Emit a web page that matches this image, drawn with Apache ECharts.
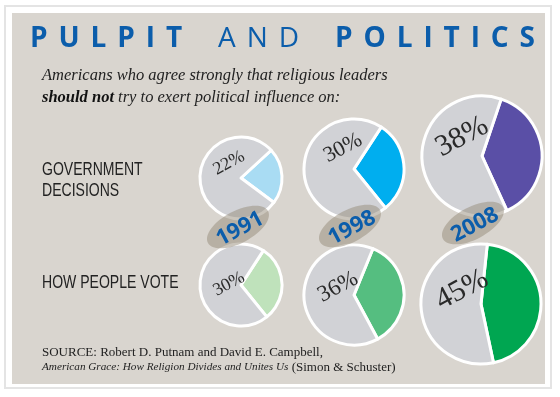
<!DOCTYPE html>
<html>
<head>
<meta charset="utf-8">
<script src="https://cdn.jsdelivr.net/npm/echarts@6/dist/echarts.min.js"></script>
<style>
  html, body { margin: 0; padding: 0; background: #fff; }
  #main { width: 560px; height: 397px; }
</style>
</head>
<body>
<div id="main"></div>
<script>
// data
var years = ['1991', '1998', '2008'];
var government = [22, 30, 38];
var vote = [30, 36, 45];

// layout (px)
var govCenters = [[241, 178], [354, 169], [482, 156]];
var voteCenters = [[241, 285], [354, 295], [481, 304]];
var radii = [41, 50, 60];
var govColors = ['#a9dcf3', '#00aeef', '#5a4fa6'];
var voteColors = ['#bfe2bb', '#55be80', '#00a651'];
var restColor = '#d1d2d6';
var govLabelPos = [[229, 163], [343, 148], [462, 137]];
var voteLabelPos = [[229, 284], [338, 287], [462, 290]];
var govLabelSize = [18, 22, 30];
var voteLabelSize = [18, 23, 30];
var yearPos = [[240, 229], [352, 228], [475, 225]];

var chart = echarts.init(document.getElementById('main'));

function pie(value, center, r, color) {
    return {
        type: 'pie',
        center: center,
        radius: [0, r],
        startAngle: 3 + value * 1.8,
        clockwise: true,
        silent: true,
        label: { show: false },
        labelLine: { show: false },
        itemStyle: { borderColor: '#fff', borderWidth: 3 },
        data: [
            { value: value, itemStyle: { color: color } },
            { value: 100 - value, itemStyle: { color: restColor } }
        ]
    };
}

var series = [];
years.forEach(function (y, i) {
    series.push(pie(government[i], govCenters[i], radii[i], govColors[i]));
    series.push(pie(vote[i], voteCenters[i], radii[i], voteColors[i]));
});

var graphics = [];
// frame + panel
graphics.push({ type: 'rect', z: -10, shape: { x: 5, y: 6, width: 546, height: 382 },
    style: { fill: '#fff', stroke: '#e4e4e4', lineWidth: 2 } });
graphics.push({ type: 'rect', z: -9, shape: { x: 12, y: 13, width: 533, height: 371 },
    style: { fill: '#d9d5cf' } });

// title with wide letter spacing
var ctx = document.createElement('canvas').getContext('2d');
var titleParts = [
    { t: 'PULPIT', font: 'bold 28px "Open Sans", sans-serif' },
    { t: 'AND', font: '28px "Open Sans", sans-serif' },
    { t: 'POLITICS', font: 'bold 28px "Open Sans", sans-serif' }
];
var natural = 0, nGaps = 0, wordGap = 36;
titleParts.forEach(function (p) {
    ctx.font = p.font;
    p.w = [];
    for (var k = 0; k < p.t.length; k++) {
        var w = ctx.measureText(p.t[k]).width;
        p.w.push(w);
        natural += w;
    }
    nGaps += p.t.length - 1;
});
var gap = (505 - natural - wordGap * 2) / nGaps;
var tx = 30;
titleParts.forEach(function (p, pi) {
    for (var k = 0; k < p.t.length; k++) {
        graphics.push({ type: 'text', z: 5, style: { text: p.t[k], x: tx, y: 53, font: p.font,
            fill: '#0b5dab', textVerticalAlign: 'bottom' } });
        tx += p.w[k] + (k < p.t.length - 1 ? gap : 0);
    }
    tx += wordGap;
});

// subtitle
graphics.push({ type: 'text', z: 5, style: {
    text: 'Americans who agree strongly that religious leaders\n{b|should not} try to exert political influence on:',
    x: 42, y: 65, font: 'italic 16.5px "Liberation Serif", serif', fill: '#222', lineHeight: 22,
    rich: { b: { font: 'italic bold 16.5px "Liberation Serif", serif', fill: '#111' } }
} });

// row labels (narrowed sans)
var rowFont = '18px "Liberation Sans", Arial, sans-serif';
graphics.push({ type: 'text', z: 5, x: 42, y: 160, scaleX: 0.78,
    style: { text: 'GOVERNMENT\nDECISIONS', x: 0, y: 0, font: rowFont, fill: '#222', lineHeight: 21 } });
graphics.push({ type: 'text', z: 5, x: 42, y: 274, scaleX: 0.78,
    style: { text: 'HOW PEOPLE VOTE', x: 0, y: 0, font: rowFont, fill: '#222' } });

// source
graphics.push({ type: 'text', z: 5, style: {
    text: 'SOURCE: Robert D. Putnam and David E. Campbell,\n{i|American Grace: How Religion Divides and Unites Us} (Simon & Schuster)',
    x: 42, y: 345, font: '13px "Liberation Serif", serif', fill: '#222', lineHeight: 15,
    rich: { i: { font: 'italic 11.2px "Liberation Serif", serif', fill: '#222' } }
} });

var rot = 28 * Math.PI / 180;
years.forEach(function (y, i) {
    // percent labels
    graphics.push({ type: 'text', z: 20, x: govLabelPos[i][0], y: govLabelPos[i][1], rotation: rot,
        style: { text: government[i] + '%', x: 0, y: 0, textAlign: 'center', textVerticalAlign: 'middle',
            font: govLabelSize[i] + 'px "Liberation Serif", serif', fill: '#2a2a2a' } });
    graphics.push({ type: 'text', z: 20, x: voteLabelPos[i][0], y: voteLabelPos[i][1], rotation: rot,
        style: { text: vote[i] + '%', x: 0, y: 0, textAlign: 'center', textVerticalAlign: 'middle',
            font: voteLabelSize[i] + 'px "Liberation Serif", serif', fill: '#2a2a2a' } });
    // year tag
    graphics.push({ type: 'ellipse', z: 20, x: yearPos[i][0] - 2, y: yearPos[i][1] - 2, rotation: rot,
        shape: { cx: 0, cy: 0, rx: 34, ry: 16 },
        style: { fill: 'rgba(150,140,122,0.5)' } });
    graphics.push({ type: 'text', z: 21, x: yearPos[i][0], y: yearPos[i][1], rotation: rot,
        style: { text: y, x: 0, y: 0, textAlign: 'center', textVerticalAlign: 'middle',
            font: 'bold 22px "Open Sans", sans-serif', fill: '#0b5dab' } });
});

chart.setOption({
    backgroundColor: '#fff',
    animation: false,
    graphic: { elements: graphics },
    series: series
});
</script>
</body>
</html>
